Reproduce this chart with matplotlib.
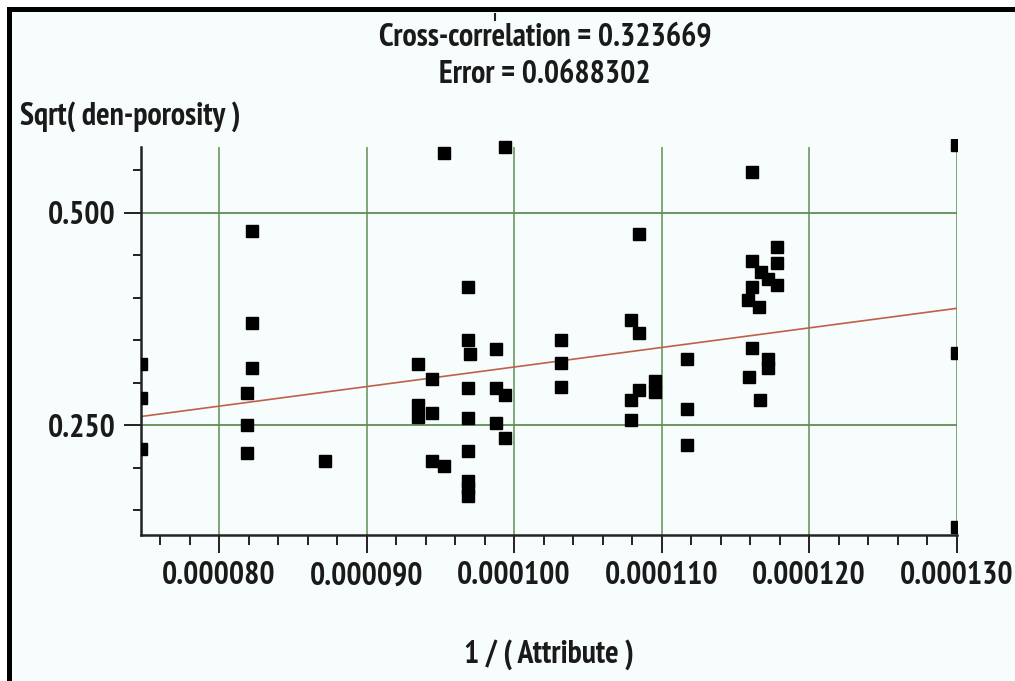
import numpy as np
import matplotlib.pyplot as plt
from matplotlib import font_manager as fm
from matplotlib.patches import Rectangle
from matplotlib.lines import Line2D
from matplotlib.ticker import MultipleLocator, FormatStrFormatter

# 数据
attr_x = [
    7.471e-5, 7.471e-5, 7.471e-5,
    8.224e-5, 8.224e-5, 8.224e-5,
    8.188e-5, 8.188e-5, 8.188e-5,
    8.719e-5,
    9.525e-5, 9.939e-5,
    9.349e-5, 9.349e-5, 9.349e-5,
    9.447e-5, 9.447e-5, 9.447e-5,
    9.525e-5,
    9.685e-5, 9.685e-5, 9.685e-5, 9.685e-5, 9.685e-5, 9.685e-5, 9.685e-5, 9.685e-5,
    9.702e-5,
    9.876e-5, 9.876e-5, 9.876e-5,
    9.941e-5, 9.941e-5,
    1.0317e-4, 1.0317e-4, 1.0317e-4,
    1.0844e-4,
    1.0793e-4, 1.0793e-4, 1.0793e-4,
    1.0847e-4, 1.0847e-4,
    1.0959e-4, 1.0959e-4,
    1.1175e-4, 1.1175e-4, 1.1175e-4,
    1.1616e-4, 1.1616e-4,
    1.1611e-4, 1.1611e-4,
    1.1673e-4, 1.1724e-4,
    1.1781e-4, 1.1781e-4, 1.1781e-4,
    1.1588e-4, 1.1663e-4,
    1.1720e-4, 1.1720e-4,
    1.1593e-4, 1.1668e-4,
    1.3003e-4, 1.3003e-4, 1.3003e-4,
]
poro_y = [
    0.3218, 0.2821, 0.2214,
    0.4786, 0.3700, 0.3171,
    0.2876, 0.2500, 0.2174,
    0.2076,
    0.5696, 0.5767,
    0.3218, 0.2735, 0.2594,
    0.3041, 0.2638, 0.2082,
    0.2018,
    0.4124, 0.3500, 0.2932, 0.2582, 0.2194, 0.1841, 0.1759, 0.1665,
    0.3335,
    0.3391, 0.2932, 0.2520,
    0.2853, 0.2344,
    0.3500, 0.3233, 0.2951,
    0.4747,
    0.3735, 0.2794, 0.2559,
    0.3586, 0.2906,
    0.3018, 0.2888,
    0.3276, 0.2685, 0.2265,
    0.5473, 0.3409,
    0.4429, 0.4127,
    0.4304, 0.4214,
    0.4598, 0.4402, 0.4147,
    0.3971, 0.3885,
    0.3276, 0.3171,
    0.3068, 0.2794,
    0.5794, 0.3344, 0.1304,
]

# 回归线两端
fit_x = [7.471e-5, 1.3003e-4]
fit_y = [0.2600, 0.3873]

title_lines = ["Cross-correlation = 0.323669", "Error = 0.0688302"]
y_label = "Sqrt( den-porosity )"
x_label = "1 / ( Attribute )"

x_grid = [8e-5, 9e-5, 1e-4, 1.1e-4, 1.2e-4, 1.3e-4]
y_grid = [0.25, 0.5]

bg = '#f7fcfc'
green = '#5f8f55'
ink = '#1a1a1a'


# 找一个窄体粗体字体，没有就用 DejaVu Sans Bold
def is_bold(f):
    w = f.weight
    if isinstance(w, int):
        return w >= 600
    return str(w).lower() in ('bold', 'heavy', 'black', 'semibold', 'demibold', '700', '800', '900')


def is_narrow(f):
    n = (f.name + ' ' + f.fname).lower()
    return ('narrow' in n or 'condensed' in n or
            str(f.stretch).lower() in ('condensed', 'semi-condensed', 'extra-condensed'))


cands = [f for f in fm.fontManager.ttflist if is_narrow(f) and is_bold(f)
         and 'mono' not in f.name.lower() and 'serif' not in f.name.lower()]
if cands:
    cands.sort(key=lambda f: ('narrow' not in f.name.lower(), f.name))
    fp = fm.FontProperties(fname=cands[0].fname)
else:
    fp = fm.FontProperties(family='DejaVu Sans', weight='bold')

W, H = 1015, 681
fig = plt.figure(figsize=(W / 100, H / 100), dpi=100, facecolor='white')

# 按刻度标签宽度（约 114 像素）定字号
probe = fig.text(0, 0, '0.000080', fontproperties=fp, fontsize=20)
rend = fig.canvas.get_renderer()
wpx = probe.get_window_extent(rend).width
probe.remove()
fsize = min(28.0, 20.0 * 114.0 / wpx)
fp.set_size(fsize)

# 外框
fig.add_artist(Rectangle((8.5 / W, -0.05), 1.2, (H - 9) / H + 0.05,
                         transform=fig.transFigure, facecolor=bg,
                         edgecolor='black', lw=3.6, zorder=-1, clip_on=False))

ax = fig.add_axes([141 / W, (H - 535) / H, 816 / W, (535 - 139.4) / H])
ax.set_facecolor(bg)
ax.set_xlim(7.471e-5, 1.3003e-4)
ax.set_ylim(0.1206, 0.586)

for s in ['top', 'right']:
    ax.spines[s].set_visible(False)
for s in ['left', 'bottom']:
    ax.spines[s].set_linewidth(1.8)
    ax.spines[s].set_color('#222222')
ax.spines['left'].set_bounds(0.1206, 0.577)

for xv in x_grid:
    ax.vlines(xv, 0.1206, 0.577, color=green, lw=1.1, zorder=1)
for yv in y_grid:
    ax.axhline(yv, color=green, lw=1.3, zorder=1)

ax.plot(fit_x, fit_y, color='#c0604c', lw=1.2, zorder=2)
ax.plot(attr_x, poro_y, 's', color='black', markersize=8.3, zorder=3)

ax.xaxis.set_major_locator(MultipleLocator(1e-5))
ax.xaxis.set_minor_locator(MultipleLocator(2e-6))
ax.yaxis.set_major_locator(MultipleLocator(0.25))
ax.yaxis.set_minor_locator(MultipleLocator(0.05))
ax.xaxis.set_major_formatter(FormatStrFormatter('%.6f'))
ax.yaxis.set_major_formatter(FormatStrFormatter('%.3f'))

ax.tick_params(axis='x', which='major', length=13, width=1.4, pad=6, color='#222222')
ax.tick_params(axis='x', which='minor', length=7, width=1.4, color='#222222')
ax.tick_params(axis='y', which='major', length=12, width=1.4, pad=6, color='#222222')
ax.tick_params(axis='y', which='minor', length=6, width=1.4, color='#222222')
for lab in ax.get_xticklabels() + ax.get_yticklabels():
    lab.set_fontproperties(fp)
    lab.set_color(ink)

fig.text(545 / W, 1 - 38 / H, title_lines[0], ha='center', va='center', fontproperties=fp, color=ink)
fig.text(545 / W, 1 - 75 / H, title_lines[1], ha='center', va='center', fontproperties=fp, color=ink)
fig.text(20 / W, 1 - 117 / H, y_label, ha='left', va='center', fontproperties=fp, color=ink)
fig.text(549 / W, 1 - 655 / H, x_label, ha='center', va='center', fontproperties=fp, color=ink)

# 标题上方的小竖线
fig.add_artist(Line2D([495 / W, 495 / W], [1 - 14 / H, 1 - 20 / H],
                      transform=fig.transFigure, color='#222222', lw=1.5))

fig.savefig('out.png', dpi=100, facecolor=fig.get_facecolor())
